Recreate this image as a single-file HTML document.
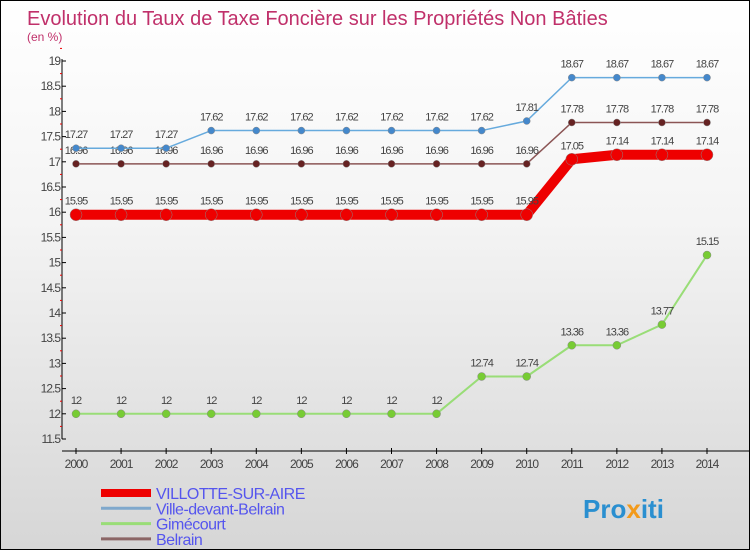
<!DOCTYPE html>
<html><head><meta charset="utf-8"><style>
body{margin:0;}
#c{width:748px;height:548px;border:1px solid #000;background:linear-gradient(#ffffff,#f4f4f4 40%,#d6d6d6);position:relative;overflow:hidden;font-family:"Liberation Sans",sans-serif;}
svg{position:absolute;left:0;top:0;}
</style></head><body>
<div id="c">
<svg id="s" width="750" height="550">
<text x="26" y="24" font-size="20" fill="#c0306a">Evolution du Taux de Taxe Foncière sur les Propriétés Non Bâties</text>
<text x="26" y="40" font-size="12" fill="#c0306a">(en %)</text>
</svg>
</div>
<script>
const years=[2000,2001,2002,2003,2004,2005,2006,2007,2008,2009,2010,2011,2012,2013,2014];
const yTicks=[11.5,12,12.5,13,13.5,14,14.5,15,15.5,16,16.5,17,17.5,18,18.5,19];
const villotte=[15.95,15.95,15.95,15.95,15.95,15.95,15.95,15.95,15.95,15.95,15.95,17.05,17.14,17.14,17.14];
const villeDevant=[17.27,17.27,17.27,17.62,17.62,17.62,17.62,17.62,17.62,17.62,17.81,18.67,18.67,18.67,18.67];
const gimecourt=[12,12,12,12,12,12,12,12,12,12.74,12.74,13.36,13.36,13.77,15.15];
const belrain=[16.96,16.96,16.96,16.96,16.96,16.96,16.96,16.96,16.96,16.96,16.96,17.78,17.78,17.78,17.78];
const NS="http://www.w3.org/2000/svg";
const svg=document.getElementById('s');
const X=i=>75+i*(706-75)/14;
const Y=v=>438-(v-11.5)*50.4;
function mk(t,a,p){const e=document.createElementNS(NS,t);for(const k in a)e.setAttribute(k,a[k]);(p||svg).appendChild(e);return e;}
let ax=mk('line',{x1:61,y1:58,x2:61,y2:438,stroke:'#000'});


let axx=mk('line',{x1:61,y1:450,x2:750,y2:450,stroke:'#000'});


yTicks.forEach(v=>{
  mk('line',{x1:61,x2:65,y1:Y(v),y2:Y(v),stroke:'#000'});
  mk('line',{x1:59,x2:61,y1:Y(v+0.25),y2:Y(v+0.25),stroke:'#e00'});
  const t=mk('text',{x:59,y:Y(v)+4,'font-size':12,'text-anchor':'end',fill:'#444','letter-spacing':'-1'});
  t.textContent=String(v);
  
  
});
years.forEach((y,i)=>{
  mk('line',{x1:X(i),x2:X(i),y1:447,y2:453,stroke:'#000'});
  const t=mk('text',{x:X(i),y:467,'font-size':12,'text-anchor':'middle',fill:'#444','letter-spacing':'-1'});
  t.textContent=y;
  
  
});
function series(data,color,width,r,dot,name){
  const g=mk('g',{});
  
  
  mk('polyline',{points:data.map((v,i)=>X(i)+','+Y(v)).join(' '),fill:'none',stroke:color,'stroke-width':width,'stroke-linejoin':'round'},g);
  data.forEach((v,i)=>{
    const c=mk('circle',{cx:X(i),cy:Y(v),r:r,fill:dot,stroke:'#888','stroke-width':0.5},g);
    
    
    const t=mk('text',{x:X(i),y:Y(v)-10,'font-size':11,'text-anchor':'middle',fill:'#444','letter-spacing':'-1'},g);
    t.textContent=String(v);
    
    
  });
}
series(gimecourt,'#99dd77',2,4,'#77cc33','gimecourt');
series(belrain,'#8b5555',1.5,3.5,'#662222','belrain');
series(villeDevant,'#66aadd',1.5,3.5,'#4488cc','ville-devant-belrain');
series(villotte,'#ee0000',10,6,'#ee0000','villotte-sur-aire');
const leg=[['VILLOTTE-SUR-AIRE','#ee0000',8],['Ville-devant-Belrain','#7fa8cc',3],['Gimécourt','#99dd77',3],['Belrain','#8b6666',3]];
leg.forEach((l,i)=>{
  const y=492+i*15.3;
  const ln=mk('line',{x1:100,x2:150,y1:y,y2:y,stroke:l[1],'stroke-width':l[2]});
  
  
  const t=mk('text',{x:155,y:y+6,'font-size':16,fill:'#5555ee','letter-spacing':'-0.5'});
  t.textContent=l[0];
  
  
});
const lg=mk('text',{x:582,y:517,'font-size':26,'font-weight':'bold',fill:'#2a8fd0'});
lg.innerHTML='Pro<tspan fill="#f39a1a">x</tspan>iti';


</script>
</body></html>
